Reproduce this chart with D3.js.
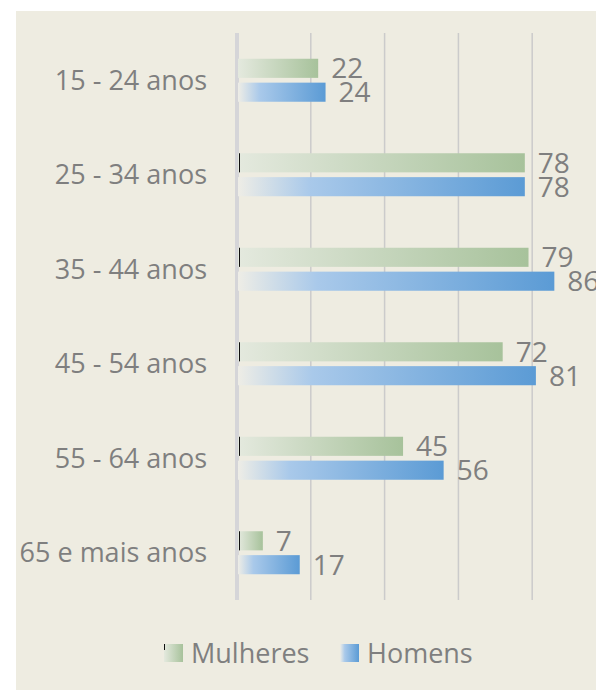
<!DOCTYPE html>
<html>
<head>
<meta charset="utf-8">
<script src="https://cdn.jsdelivr.net/npm/d3@7"></script>
<style>
  body { margin: 0; background: #fff; }
  svg text { font-family: "Open Sans", "Noto Sans", sans-serif; fill: #7f7f7f; }
</style>
</head>
<body>
<svg id="chart" width="596" height="691"></svg>
<script>
// dados
const categories = ['15 - 24 anos', '25 - 34 anos', '35 - 44 anos', '45 - 54 anos', '55 - 64 anos', '65 e mais anos'];
const mulheres = [22, 78, 79, 72, 45, 7];
const homens = [24, 78, 86, 81, 56, 17];
const seriesNames = ['Mulheres', 'Homens'];
const gridTicks = [0, 20, 40, 60, 80];

const svg = d3.select('#chart');
const W = 596, H = 691;

// painel de fundo
svg.append('rect').attr('x', 16).attr('y', 11).attr('width', W - 16).attr('height', H - 12).attr('fill', '#eeece1');

// gradientes
const defs = svg.append('defs');
let makeGrad = (id, stops) => {
    let g = defs.append('linearGradient').attr('id', id).attr('x1', '0%').attr('x2', '100%').attr('y1', '0%').attr('y2', '0%');
    stops.forEach(s => g.append('stop').attr('offset', s[0]).attr('stop-color', s[1]));
};
makeGrad('gradM', [['0%', '#e4e9de'], ['100%', '#a7c29b']]);
makeGrad('gradH', [['0%', '#eeede6'], ['25%', '#a9c9ea'], ['100%', '#5b9bd5']]);
const fills = ['url(#gradM)', 'url(#gradH)'];

const plotTop = 33, plotBottom = 600;
const x = d3.scaleLinear().domain([0, 100]).range([237, 606]);
const y = d3.scaleBand().domain(categories).range([plotTop, plotBottom]);
const inner = d3.scaleBand().domain(seriesNames).range([0, 43]).paddingInner(0.2);

// grelha
svg.append('g').selectAll('line').data(gridTicks.slice(1)).join('line')
    .attr('x1', d => x(d)).attr('x2', d => x(d)).attr('y1', plotTop).attr('y2', plotBottom)
    .attr('stroke', '#cbcbcb').attr('stroke-width', 1.5);
svg.append('line').attr('x1', x(0)).attr('x2', x(0)).attr('y1', plotTop).attr('y2', plotBottom)
    .attr('stroke', '#d5d5d8').attr('stroke-width', 4);

// rótulos das categorias
const catSize = 27;
svg.append('g').selectAll('text').data(categories).join('text')
    .attr('x', 207).attr('y', d => y(d) + y.bandwidth() / 2 + catSize * 0.36)
    .attr('text-anchor', 'end')
    .attr('font-size', catSize).text(d => d);

// barras
const valSize = 28;
const data = categories.map((c, i) => ({ c, values: [mulheres[i], homens[i]] }));
const groupOff = (y.bandwidth() - 43) / 2;
data.forEach((d, i) => {
    const g = svg.append('g').attr('transform', `translate(0,${y(d.c) + groupOff})`);
    d.values.forEach((v, j) => {
        const by = inner(seriesNames[j]);
        g.append('rect')
            .attr('x', x(0) + 1).attr('y', by)
            .attr('width', x(v) - x(0) - 1).attr('height', inner.bandwidth())
            .attr('fill', fills[j]);
        if (j === 0 && i > 0) {
            g.append('line').attr('x1', x(0) + 2.5).attr('x2', x(0) + 2.5).attr('y1', by).attr('y2', by + inner.bandwidth())
                .attr('stroke', '#111').attr('stroke-width', 1);
        }
        g.append('text')
            .attr('x', x(v) + 13).attr('y', by + inner.bandwidth() / 2 + valSize * 0.36)
            .attr('font-size', valSize).text(v);
    });
});

// legenda
const legend = svg.append('g').attr('transform', 'translate(0,644)');
const legX = [164, 340];
seriesNames.forEach((n, j) => {
    legend.append('rect').attr('x', legX[j]).attr('y', 0).attr('width', 19).attr('height', 18).attr('fill', fills[j]);
    if (j === 0) legend.append('line').attr('x1', legX[j] + 0.5).attr('x2', legX[j] + 0.5).attr('y1', 0).attr('y2', 6).attr('stroke', '#111');
    legend.append('text').attr('x', legX[j] + 27).attr('y', 9 + catSize * 0.36)
        .attr('font-size', catSize).text(n);
});
</script>
</body>
</html>
